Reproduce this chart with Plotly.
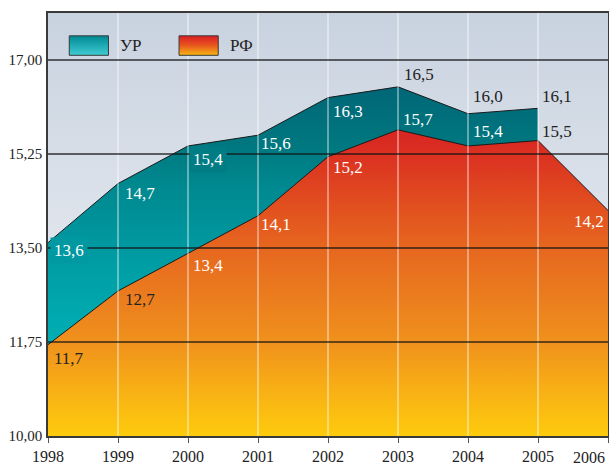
import plotly.graph_objects as go

# ---------------- data ----------------
years = [1998, 1999, 2000, 2001, 2002, 2003, 2004, 2005, 2006]
ur_years = [1998, 1999, 2000, 2001, 2002, 2003, 2004, 2005]
ur_values = [13.6, 14.7, 15.4, 15.6, 16.3, 16.5, 16.0, 16.1]
rf_values = [11.7, 12.7, 13.4, 14.1, 15.2, 15.7, 15.4, 15.5, 14.2]
y_ticks = [10.00, 11.75, 13.50, 15.25, 17.00]
series_names = ["УР", "РФ"]

# ---------------- styling ----------------
FONT = "Liberation Serif"
Y_MIN, Y_MAX = 10.0, 17.875
DARK = "#222222"

ur_dx = [21, 22, 20, 18, 20, 21, 20, 19]
ur_dy = [-8, -10, -14, -8, -14, 12, 17, 12]
ur_col = ["white"] * 5 + [DARK] * 3
ur_bg = ["#0099a1", None, "#007c85", None, None, None, None, None]

rf_dx = [21, 22, 20, 18, 20, 20, 20, 19, -19]
rf_dy = [-14, -9, -12, -9, -11, 10, 14, 9, -11]
rf_col = [DARK, DARK, "white", "white", "white", "white", "white", DARK, "white"]

teal_scale = [[0, "#00c0c4"], [0.385, "#00a6ac"], [0.55, "#0098a0"],
              [0.72, "#00888f"], [0.83, "#007880"], [1, "#006676"]]
fire_scale = [[0, "#fdcb0d"], [0.15, "#f8b015"], [0.3, "#f0921c"],
              [0.45, "#eb7d1e"], [0.62, "#e6661f"], [0.78, "#e04a1f"],
              [0.9, "#dc3421"], [1, "#d82422"]]


def fmt(v, nd):
    return f"{v:.{nd}f}".replace(".", ",")


fig = go.Figure()

# plot-area background gradient
x0, x1 = years[0], years[-1]
fig.add_trace(go.Scatter(
    x=[x0, x1, x1, x0, x0], y=[Y_MIN, Y_MIN, Y_MAX, Y_MAX, Y_MIN],
    mode="none", fill="toself",
    fillgradient=dict(type="vertical", start=Y_MIN, stop=Y_MAX,
                      colorscale=[[0, "#f4f5f8"], [1, "#c8d2df"]]),
    hoverinfo="skip", showlegend=False))

# УР area
fig.add_trace(go.Scatter(
    x=ur_years, y=ur_values, mode="lines", fill="tozeroy", name=series_names[0],
    line=dict(color="#1a1a1a", width=1),
    fillgradient=dict(type="vertical", start=Y_MIN, stop=max(ur_values),
                      colorscale=teal_scale),
    hoverinfo="skip", showlegend=False))

# РФ area
fig.add_trace(go.Scatter(
    x=years, y=rf_values, mode="lines", fill="tozeroy", name=series_names[1],
    line=dict(color="#1a1a1a", width=1),
    fillgradient=dict(type="vertical", start=Y_MIN, stop=max(rf_values),
                      colorscale=fire_scale),
    hoverinfo="skip", showlegend=False))

# vertical white grid lines
vx, vy = [], []
for yr in years[1:-1]:
    vx += [yr, yr, None]
    vy += [Y_MIN, Y_MAX, None]
fig.add_trace(go.Scatter(x=vx, y=vy, mode="lines",
                         line=dict(color="rgba(255,255,255,0.65)", width=1.2),
                         hoverinfo="skip", showlegend=False))

# horizontal dark grid lines
hx, hy = [], []
for t in y_ticks[1:]:
    hx += [x0, x1, None]
    hy += [t, t, None]
fig.add_trace(go.Scatter(x=hx, y=hy, mode="lines",
                         line=dict(color="rgba(20,20,20,0.85)", width=1.3),
                         hoverinfo="skip", showlegend=False))

# legend swatches on an overlay axis (0..1 fractions of the plot area)
sw_y = [0.900, 0.946]
for (sx0, sx1), scale in [((0.038, 0.108), [[0, "#40ccd4"], [1, "#008892"]]),
                          ((0.234, 0.304), [[0, "#f6b811"], [0.5, "#e8581f"], [1, "#dc1c24"]])]:
    fig.add_trace(go.Scatter(
        x=[sx0, sx1, sx1, sx0, sx0], y=[sw_y[0], sw_y[0], sw_y[1], sw_y[1], sw_y[0]],
        xaxis="x2", yaxis="y2", mode="lines", fill="toself",
        line=dict(color="#3a3a3a", width=1),
        fillgradient=dict(type="vertical", start=sw_y[0], stop=sw_y[1], colorscale=scale),
        hoverinfo="skip", showlegend=False))

annotations = []
for i, (yr, v) in enumerate(zip(ur_years, ur_values)):
    a = dict(x=yr, y=v, text=fmt(v, 1), showarrow=False, xanchor="center", yanchor="middle",
             xshift=ur_dx[i], yshift=ur_dy[i],
             font=dict(family=FONT, size=17, color=ur_col[i]))
    if ur_bg[i]:
        a["bgcolor"] = ur_bg[i]
        a["borderpad"] = 3
    annotations.append(a)
for i, (yr, v) in enumerate(zip(years, rf_values)):
    annotations.append(dict(x=yr, y=v, text=fmt(v, 1), showarrow=False,
                            xanchor="center", yanchor="middle",
                            xshift=rf_dx[i], yshift=rf_dy[i],
                            font=dict(family=FONT, size=17, color=rf_col[i])))
# legend labels
for name, lx in zip(series_names, [0.125, 0.321]):
    annotations.append(dict(x=lx, y=0.923, xref="paper", yref="paper", text=name,
                            showarrow=False, xanchor="left", yanchor="middle",
                            font=dict(family=FONT, size=17, color=DARK)))
# last year label, right-aligned to the plot edge
annotations.append(dict(x=years[-1], y=0, xref="x", yref="paper", text=str(years[-1]),
                        showarrow=False, xanchor="right", yanchor="middle",
                        xshift=-1, yshift=-21,
                        font=dict(family=FONT, size=16, color=DARK)))

fig.update_layout(
    width=609, height=465,
    margin=dict(l=48, r=1, t=13, b=29),
    paper_bgcolor="white", plot_bgcolor="white",
    showlegend=False,
    annotations=annotations,
    xaxis=dict(range=[x0, x1], tickvals=years,
               ticktext=[str(y) for y in years[:-1]] + [""],
               showgrid=False, zeroline=False, showline=True, linecolor="#3a3a3a",
               linewidth=1.5, mirror=True, ticks="outside", ticklen=5, tickcolor="#555",
               tickfont=dict(family=FONT, size=16, color=DARK), layer="above traces",
               ticklabelstandoff=0, automargin=False),
    yaxis=dict(range=[Y_MIN, Y_MAX], tickvals=y_ticks, ticktext=[fmt(t, 2) for t in y_ticks],
               showgrid=False, zeroline=False, showline=True, linecolor="#3a3a3a",
               linewidth=1.5, mirror=True, ticks="",
               tickfont=dict(family=FONT, size=15, color=DARK), layer="above traces",
               ticklabelstandoff=1, automargin=False),
    xaxis2=dict(overlaying="x", anchor="y2", range=[0, 1], visible=False, fixedrange=True),
    yaxis2=dict(overlaying="y", anchor="x2", range=[0, 1], visible=False, fixedrange=True),
)

fig.write_html("out.html")
